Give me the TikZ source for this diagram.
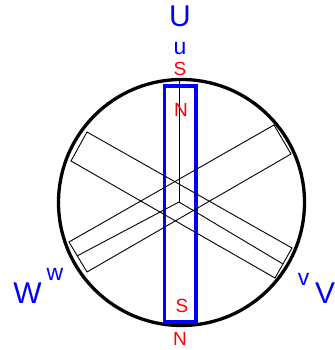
\documentclass[tikz,border=0pt]{standalone}
\usepackage{fontspec}
\setmainfont{Liberation Sans}
\usepackage{xcolor}
\usepackage{tikz}
\usetikzlibrary{positioning}

\begin{document}
\begin{tikzpicture}[
  x=1pt, y=-1pt,
  rim/.style={draw=black, line width=3.3pt},
  magnet/.style={draw=blue, line width=3.5pt},
  winding/.style={draw=black, line width=0.9pt},
  phase/.style={text=blue, inner sep=0pt, anchor=base, font=\fontsize{30}{30}\selectfont},
  terminal/.style={text=blue, inner sep=0pt, anchor=base, font=\fontsize{23}{23}\selectfont},
  pole/.style={text=red, inner sep=0pt, anchor=base, font=\fontsize{19}{19}\selectfont}
]
\useasboundingbox (0,0) rectangle (334,350);

\coordinate (hub) at (179,202);
\coordinate (uend) at (179,79);
\coordinate (vend) at (283,264);
\coordinate (wend) at (77,256);

\draw[rim] (181.5,202.5) circle (123);
\draw[magnet] (164.5,86) rectangle (196,322);

% coils
\draw[winding] (87,132) -- (292,248) -- (275,278) -- (71,161) -- cycle;
\draw[winding] (274,125) -- (291,154) -- (87,272) -- (69,242) -- cycle;
\draw[winding] (hub) -- (uend);
\draw[winding] (hub) -- (vend);
\draw[winding] (hub) -- (wend);

\node[phase] (U) at (180,27) {U};
\node[phase] (V) at (325,303) {V};
\node[phase] (W) at (27.5,303) {W};
\node[terminal] (u) at (180,55) {u};
\node[terminal] (v) at (303.5,285) {v};
\node[terminal] (w) at (55,280) {w};
\node[pole] (s1) at (180,76) {S};
\node[pole] (n1) at (181,116) {N};
\node[pole] (s2) at (182,312) {S};
\node[pole] (n2) at (180,345) {N};
\end{tikzpicture}
\end{document}
